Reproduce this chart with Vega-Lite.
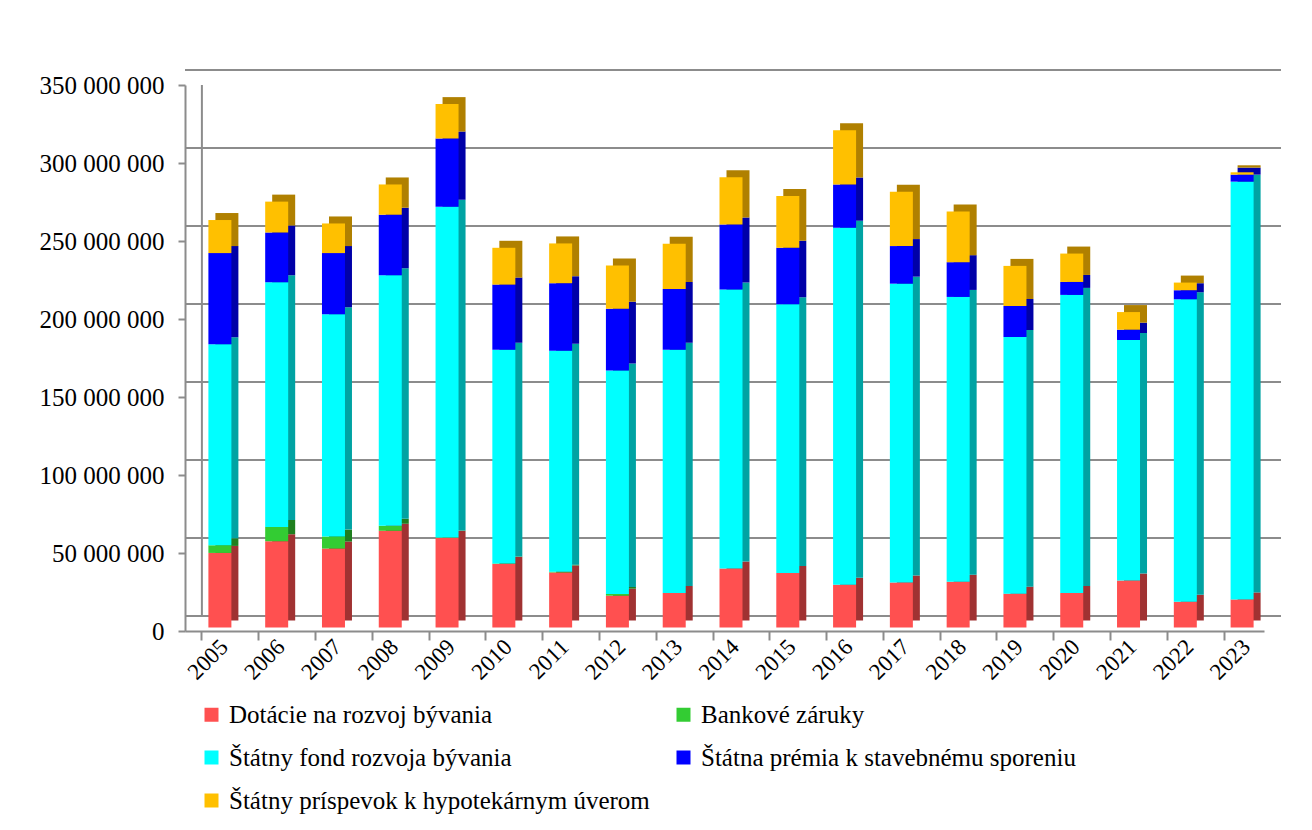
{
  "$schema": "https://vega.github.io/schema/vega-lite/v6.json",
  "width": 1079,
  "height": 546,
  "autosize": "none",
  "padding": {"left": 185, "top": 85, "right": 48, "bottom": 199},
  "background": "white",
  "config": {
    "view": {"stroke": null},
    "font": "Liberation Serif",
    "locale": {"number": {"decimal": ",", "thousands": "\u00a0", "grouping": [3], "currency": ["", " €"]}}
  },
  "datasets": {
    "grid": [{"v": 0}, {"v": 50000000}, {"v": 100000000}, {"v": 150000000}, {"v": 200000000}, {"v": 250000000}, {"v": 300000000}, {"v": 350000000}],
    "series": [
      {"s": "Dotácie na rozvoj bývania", "o": 1},
      {"s": "Bankové záruky", "o": 2},
      {"s": "Štátny fond rozvoja bývania", "o": 3},
      {"s": "Štátna prémia k stavebnému sporeniu", "o": 4},
      {"s": "Štátny príspevok k hypotekárnym úverom", "o": 5}
    ],
    "main": [
      {"year": "2005", "s": "Dotácie na rozvoj bývania", "v": 47800000},
      {"year": "2005", "s": "Bankové záruky", "v": 4900000},
      {"year": "2005", "s": "Štátny fond rozvoja bývania", "v": 128800000},
      {"year": "2005", "s": "Štátna prémia k stavebnému sporeniu", "v": 58500000},
      {"year": "2005", "s": "Štátny príspevok k hypotekárnym úverom", "v": 21200000},
      {"year": "2006", "s": "Dotácie na rozvoj bývania", "v": 55300000},
      {"year": "2006", "s": "Bankové záruky", "v": 9200000},
      {"year": "2006", "s": "Štátny fond rozvoja bývania", "v": 156800000},
      {"year": "2006", "s": "Štátna prémia k stavebnému sporeniu", "v": 31900000},
      {"year": "2006", "s": "Štátny príspevok k hypotekárnym úverom", "v": 19800000},
      {"year": "2007", "s": "Dotácie na rozvoj bývania", "v": 50600000},
      {"year": "2007", "s": "Bankové záruky", "v": 7700000},
      {"year": "2007", "s": "Štátny fond rozvoja bývania", "v": 142500000},
      {"year": "2007", "s": "Štátna prémia k stavebnému sporeniu", "v": 39200000},
      {"year": "2007", "s": "Štátny príspevok k hypotekárnym úverom", "v": 19000000},
      {"year": "2008", "s": "Dotácie na rozvoj bývania", "v": 62000000},
      {"year": "2008", "s": "Bankové záruky", "v": 3200000},
      {"year": "2008", "s": "Štátny fond rozvoja bývania", "v": 160600000},
      {"year": "2008", "s": "Štátna prémia k stavebnému sporeniu", "v": 38800000},
      {"year": "2008", "s": "Štátny príspevok k hypotekárnym úverom", "v": 19400000},
      {"year": "2009", "s": "Dotácie na rozvoj bývania", "v": 57400000},
      {"year": "2009", "s": "Bankové záruky", "v": 300000},
      {"year": "2009", "s": "Štátny fond rozvoja bývania", "v": 212000000},
      {"year": "2009", "s": "Štátna prémia k stavebnému sporeniu", "v": 43700000},
      {"year": "2009", "s": "Štátny príspevok k hypotekárnym úverom", "v": 22100000},
      {"year": "2010", "s": "Dotácie na rozvoj bývania", "v": 40700000},
      {"year": "2010", "s": "Bankové záruky", "v": 300000},
      {"year": "2010", "s": "Štátny fond rozvoja bývania", "v": 137000000},
      {"year": "2010", "s": "Štátna prémia k stavebnému sporeniu", "v": 41800000},
      {"year": "2010", "s": "Štátny príspevok k hypotekárnym úverom", "v": 23600000},
      {"year": "2011", "s": "Dotácie na rozvoj bývania", "v": 35300000},
      {"year": "2011", "s": "Bankové záruky", "v": 500000},
      {"year": "2011", "s": "Štátny fond rozvoja bývania", "v": 141600000},
      {"year": "2011", "s": "Štátna prémia k stavebnému sporeniu", "v": 43300000},
      {"year": "2011", "s": "Štátny príspevok k hypotekárnym úverom", "v": 25500000},
      {"year": "2012", "s": "Dotácie na rozvoj bývania", "v": 20400000},
      {"year": "2012", "s": "Bankové záruky", "v": 1100000},
      {"year": "2012", "s": "Štátny fond rozvoja bývania", "v": 143300000},
      {"year": "2012", "s": "Štátna prémia k stavebnému sporeniu", "v": 39600000},
      {"year": "2012", "s": "Štátny príspevok k hypotekárnym úverom", "v": 27600000},
      {"year": "2013", "s": "Dotácie na rozvoj bývania", "v": 22100000},
      {"year": "2013", "s": "Štátny fond rozvoja bývania", "v": 155900000},
      {"year": "2013", "s": "Štátna prémia k stavebnému sporeniu", "v": 39000000},
      {"year": "2013", "s": "Štátny príspevok k hypotekárnym úverom", "v": 29000000},
      {"year": "2014", "s": "Dotácie na rozvoj bývania", "v": 37900000},
      {"year": "2014", "s": "Štátny fond rozvoja bývania", "v": 178700000},
      {"year": "2014", "s": "Štátna prémia k stavebnému sporeniu", "v": 41800000},
      {"year": "2014", "s": "Štátny príspevok k hypotekárnym úverom", "v": 30200000},
      {"year": "2015", "s": "Dotácie na rozvoj bývania", "v": 35000000},
      {"year": "2015", "s": "Štátny fond rozvoja bývania", "v": 172200000},
      {"year": "2015", "s": "Štátna prémia k stavebnému sporeniu", "v": 36200000},
      {"year": "2015", "s": "Štátny príspevok k hypotekárnym úverom", "v": 33200000},
      {"year": "2016", "s": "Dotácie na rozvoj bývania", "v": 27400000},
      {"year": "2016", "s": "Štátny fond rozvoja bývania", "v": 228800000},
      {"year": "2016", "s": "Štátna prémia k stavebnému sporeniu", "v": 27700000},
      {"year": "2016", "s": "Štátny príspevok k hypotekárnym úverom", "v": 34900000},
      {"year": "2017", "s": "Dotácie na rozvoj bývania", "v": 28900000},
      {"year": "2017", "s": "Štátny fond rozvoja bývania", "v": 191500000},
      {"year": "2017", "s": "Štátna prémia k stavebnému sporeniu", "v": 24100000},
      {"year": "2017", "s": "Štátny príspevok k hypotekárnym úverom", "v": 34900000},
      {"year": "2018", "s": "Dotácie na rozvoj bývania", "v": 29400000},
      {"year": "2018", "s": "Štátny fond rozvoja bývania", "v": 182500000},
      {"year": "2018", "s": "Štátna prémia k stavebnému sporeniu", "v": 22300000},
      {"year": "2018", "s": "Štátny príspevok k hypotekárnym úverom", "v": 32500000},
      {"year": "2019", "s": "Dotácie na rozvoj bývania", "v": 21700000},
      {"year": "2019", "s": "Štátny fond rozvoja bývania", "v": 164500000},
      {"year": "2019", "s": "Štátna prémia k stavebnému sporeniu", "v": 19900000},
      {"year": "2019", "s": "Štátny príspevok k hypotekárnym úverom", "v": 25700000},
      {"year": "2020", "s": "Dotácie na rozvoj bývania", "v": 22100000},
      {"year": "2020", "s": "Štátny fond rozvoja bývania", "v": 191100000},
      {"year": "2020", "s": "Štátna prémia k stavebnému sporeniu", "v": 8300000},
      {"year": "2020", "s": "Štátny príspevok k hypotekárnym úverom", "v": 18200000},
      {"year": "2021", "s": "Dotácie na rozvoj bývania", "v": 30200000},
      {"year": "2021", "s": "Štátny fond rozvoja bývania", "v": 154100000},
      {"year": "2021", "s": "Štátna prémia k stavebnému sporeniu", "v": 6600000},
      {"year": "2021", "s": "Štátny príspevok k hypotekárnym úverom", "v": 11300000},
      {"year": "2022", "s": "Dotácie na rozvoj bývania", "v": 16500000},
      {"year": "2022", "s": "Štátny fond rozvoja bývania", "v": 193900000},
      {"year": "2022", "s": "Štátna prémia k stavebnému sporeniu", "v": 5800000},
      {"year": "2022", "s": "Štátny príspevok k hypotekárnym úverom", "v": 4900000},
      {"year": "2023", "s": "Dotácie na rozvoj bývania", "v": 18000000},
      {"year": "2023", "s": "Štátny fond rozvoja bývania", "v": 267800000},
      {"year": "2023", "s": "Štátna prémia k stavebnému sporeniu", "v": 4500000},
      {"year": "2023", "s": "Štátny príspevok k hypotekárnym úverom", "v": 1500000}
    ]
  },
  "resolve": {"scale": {"color": "independent"}},
  "layer": [
    {
      "data": {"name": "grid"},
      "mark": {"type": "rule", "color": "#8c8c8c", "strokeWidth": 2, "xOffset": 17, "yOffset": -15},
      "encoding": {
        "y": {
          "field": "v", "type": "quantitative",
          "scale": {"domain": [0, 350000000], "nice": false, "zero": true},
          "axis": {
            "values": [0, 50000000, 100000000, 150000000, 200000000, 250000000, 300000000, 350000000],
            "format": ",d", "title": null, "grid": false,
            "domainColor": "#8c8c8c", "domainWidth": 2,
            "tickColor": "#8c8c8c", "tickWidth": 2, "tickSize": 7,
            "labelFont": "Liberation Serif", "labelFontSize": 25, "labelColor": "black",
            "labelPadding": 14
          }
        }
      }
    },
    {
      "data": {"values": [{"v": 0}]},
      "mark": {"type": "rule", "color": "#8c8c8c", "strokeWidth": 2, "yOffset": -15},
      "encoding": {
        "x": {"datum": "2005", "type": "nominal", "bandPosition": 0},
        "y": {"datum": 0, "type": "quantitative"},
        "y2": {"datum": 350000000}
      }
    },
    {
      "data": {"name": "main"},
      "transform": [{"lookup": "s", "from": {"data": {"name": "series"}, "key": "s", "fields": ["o"]}}],
      "mark": {"type": "bar", "xOffset": 13.5, "yOffset": -10.5},
      "encoding": {
        "x": {
          "field": "year", "type": "nominal",
          "scale": {"paddingInner": 0.595, "paddingOuter": 0.2975},
          "axis": {
            "title": null, "labelAngle": -45, "bandPosition": 0, "labelOffset": 11,
            "domainColor": "#8c8c8c", "domainWidth": 2,
            "tickColor": "#8c8c8c", "tickWidth": 2, "tickSize": 9,
            "labelFont": "Liberation Serif", "labelFontSize": 23, "labelColor": "black",
            "labelPadding": 3
          }
        },
        "y": {"field": "v", "type": "quantitative", "stack": "zero"},
        "order": {"field": "o", "type": "quantitative", "sort": "ascending"},
        "color": {
          "field": "s", "type": "nominal",
          "scale": {
            "domain": ["Dotácie na rozvoj bývania", "Bankové záruky", "Štátny fond rozvoja bývania", "Štátna prémia k stavebnému sporeniu", "Štátny príspevok k hypotekárnym úverom"],
            "range": ["#a03232", "#1f7f1f", "#00a3a3", "#0000a8", "#b08000"]
          },
          "legend": null
        }
      }
    },
    {
      "data": {"name": "main"},
      "transform": [{"lookup": "s", "from": {"data": {"name": "series"}, "key": "s", "fields": ["o"]}}],
      "mark": {"type": "bar", "xOffset": 6.5, "yOffset": -3.5},
      "encoding": {
        "x": {"field": "year", "type": "nominal"},
        "y": {"field": "v", "type": "quantitative", "stack": "zero"},
        "order": {"field": "o", "type": "quantitative", "sort": "ascending"},
        "color": {
          "field": "s", "type": "nominal",
          "scale": {
            "domain": ["Dotácie na rozvoj bývania", "Bankové záruky", "Štátny fond rozvoja bývania", "Štátna prémia k stavebnému sporeniu", "Štátny príspevok k hypotekárnym úverom"],
            "range": ["#ff5050", "#33cc33", "#00ffff", "#0000ff", "#ffc000"]
          },
          "legend": {
            "orient": "none", "legendX": 14, "legendY": 617, "columns": 2, "direction": "horizontal",
            "title": null, "padding": 0,
            "symbolType": "square", "symbolSize": 196, "symbolStrokeWidth": 0, "symbolOpacity": 1,
            "labelFont": "Liberation Serif", "labelFontSize": 25, "labelColor": "black", "labelLimit": 0,
            "labelOffset": 5, "columnPadding": 21, "rowPadding": 17
          }
        }
      }
    }
  ]
}
